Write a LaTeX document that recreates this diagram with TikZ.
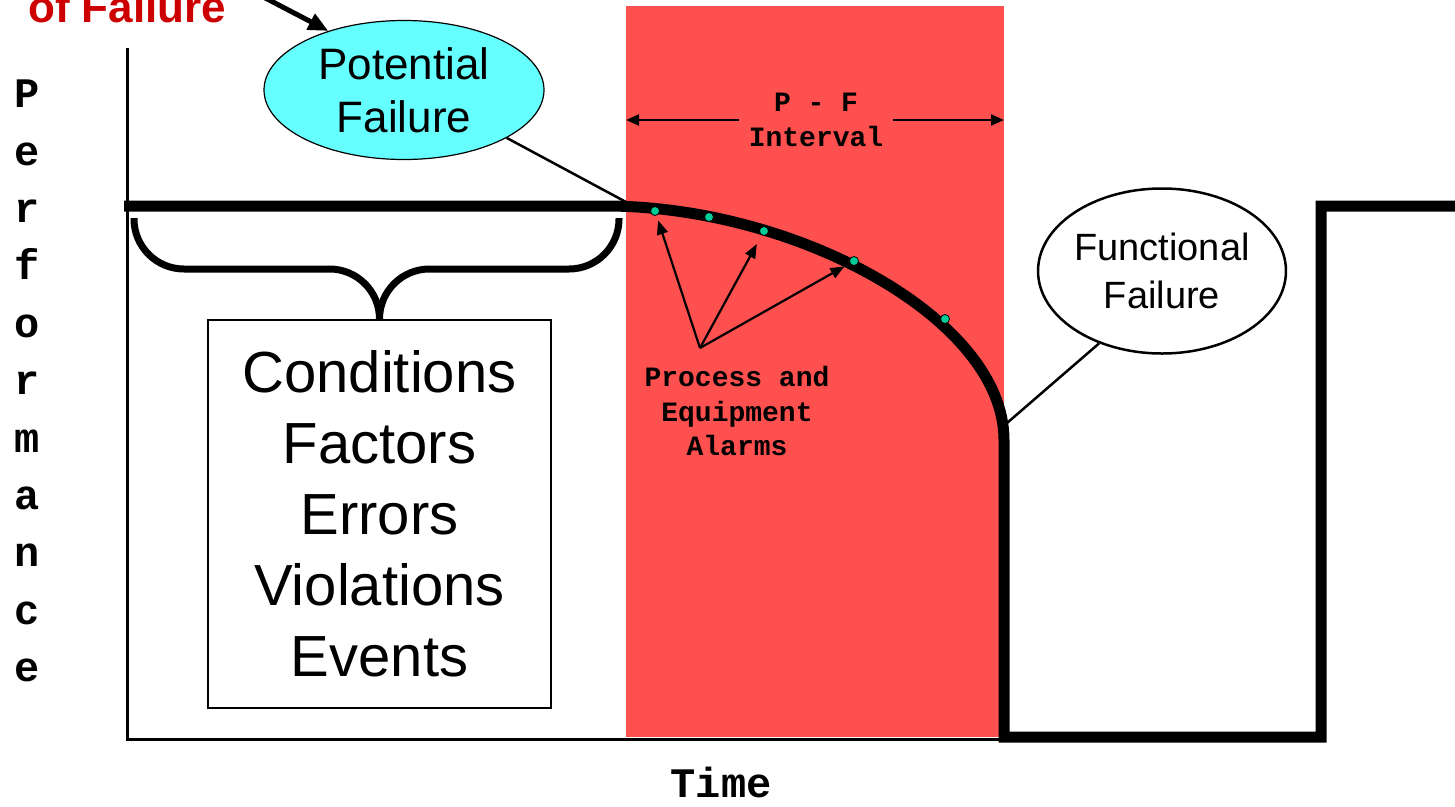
\documentclass[tikz,border=0pt]{standalone}
\usepackage{fontspec}
\setmainfont{Liberation Sans}
\setmonofont{Liberation Mono}
\usetikzlibrary{arrows.meta,shapes.geometric}
\definecolor{pfred}{RGB}{255,80,80}
\definecolor{potcyan}{RGB}{102,255,255}
\definecolor{alarmgreen}{RGB}{0,204,153}
\definecolor{onsetred}{RGB}{204,0,0}
\tikzset{
  perfline/.style={line width=11pt,line join=miter},
  axisline/.style={line width=3pt},
  braceline/.style={line width=7pt,rounded corners=50pt},
  callout/.style={ellipse,draw,inner sep=0pt,align=center},
  monolabel/.style={font=\ttfamily\bfseries\fontsize{28}{34.5}\selectfont,align=center},
  alarmdot/.style={circle,draw=black,fill=alarmgreen,line width=0.8pt,minimum size=9pt,inner sep=0pt},
  alarmarrow/.style={line width=2.2pt,-{Triangle[length=14pt,width=11pt]}},
  pfarrow/.style={line width=2.2pt,-{Triangle[length=13pt,width=11pt]}}
}

\begin{document}
\begin{tikzpicture}[x=1pt,y=-1pt]
\useasboundingbox (0,0) rectangle (1455,806);
% P-F band
\fill[pfred] (626,6) coordinate (bandL) rectangle (1004,737) coordinate (bandR);
% axes
\draw[axisline] (127,48) -- (127,739) -- (1004,739);
% performance curve
\draw[perfline] (124,206) -- (610,206) .. controls (800,208) and (1004,320) .. (1004,440)
  -- (1004,737) -- (1321,737) -- (1321,206) -- (1455,206);
% alarm points
\foreach \n/\p in {1/{655,211},2/{709,217},3/{764,231},4/{854,261},5/{945,319}}
  \node[alarmdot] (d\n) at (\p) {};
\node[monolabel] (alarm) at (737,411) {Process and\\Equipment\\Alarms};
\coordinate (alarmsrc) at (700,348);
\foreach \n/\s in {1/5,3/10,4/6}
  \draw[alarmarrow,shorten >=\s pt] (alarmsrc) -- (d\n);
% P-F interval
\node[monolabel,inner sep=10pt] (pfint) at (816,120) {P - F\\Interval};
\draw[pfarrow] (pfint.west) -- (pfint.west -| bandL);
\draw[pfarrow] (pfint.east) -- (pfint.east -| bandR);
% potential failure
\node[callout,fill=potcyan,line width=1.2pt,minimum width=280pt,minimum height=139pt,
  font=\fontsize{44}{53}\selectfont] (pot) at (404,90) {Potential\\Failure};
\coordinate (pfstart) at (626,202);
\draw[line width=2.5pt] (pot.-25) -- (pfstart);
\node[font=\bfseries\fontsize{44}{53}\selectfont,text=onsetred,anchor=base west,inner sep=0pt]
  (onset) at (28,22) {of Failure};
\coordinate (onsettail) at (250,-10);
\draw[line width=5pt,-{Triangle[length=20pt,width=17pt]}] (onsettail) -- (pot.142);
% functional failure
\node[callout,line width=2.5pt,minimum width=236pt,minimum height=165pt,
  font=\fontsize{38}{48}\selectfont] (ff) at (1162,271) {Functional\\Failure};
\coordinate (ffend) at (1007,423);
\draw[line width=2.5pt] (ff.229) -- (ffend);
% conditions box and brace
\node[draw,line width=1.5pt,minimum width=343pt,minimum height=388pt,align=center,
  font=\fontsize{58}{71}\selectfont] (cond) at (379.5,514)
  {Conditions\\Factors\\Errors\\Violations\\Events};
\coordinate (bracemid) at (cond.north |- 0,269);
\draw[braceline] (134,218) |- (bracemid) -- (cond.north);
\draw[braceline] (619,218) |- (bracemid) -- (cond.north);
% axis labels
\node[font=\ttfamily\bfseries\fontsize{42}{57.4}\selectfont,align=center] (perf) at (27,381)
  {P\\e\\r\\f\\o\\r\\m\\a\\n\\c\\e};
\node[font=\ttfamily\bfseries\fontsize{42}{50}\selectfont,anchor=base] (time) at (721,797) {Time};
\end{tikzpicture}
\end{document}
